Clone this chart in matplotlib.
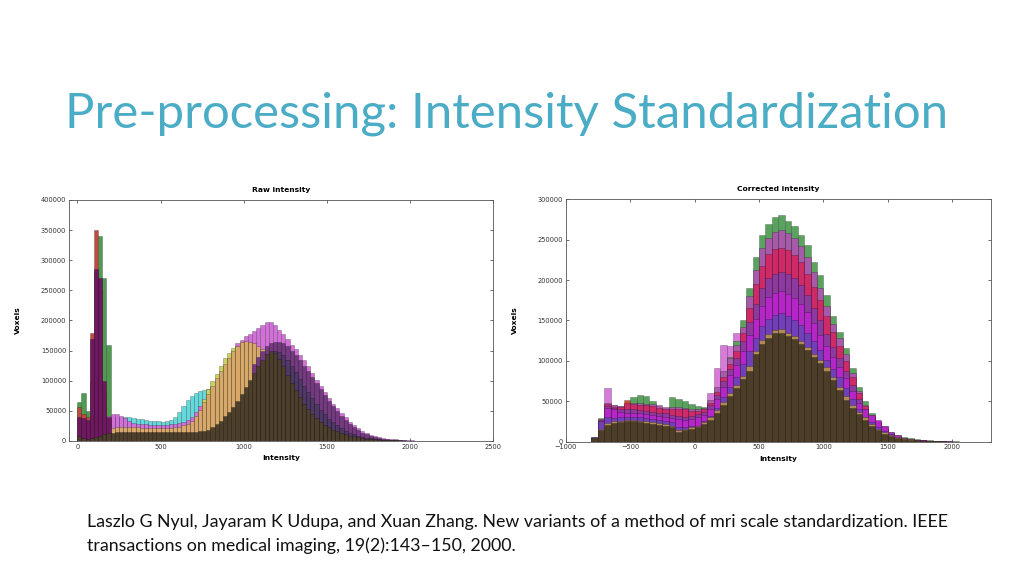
import numpy as np
import matplotlib
matplotlib.use("Agg")
import matplotlib.pyplot as plt

# ── Data (voxel counts in thousands, one value per bin) ───────────────────────
# Raw intensity: bins of 25, each series listed from its first bin edge
RAW_BIN = 25
raw_green_start = 0
raw_green = [65, 80, 50, 100, 280, 340, 270, 160, 40]
raw_red_start = 0
raw_red = [57, 45, 40, 180, 350, 250, 80, 30]
raw_cyan_start = 175
raw_cyan = [30, 36, 38, 39, 39, 39, 38, 37, 36, 35,
            34, 33, 33, 32, 33, 35, 40, 48, 58, 68,
            75, 79, 83, 85, 87, 90, 95, 100]
raw_magenta_start = 150
raw_magenta = [35, 42, 45, 44, 42, 38, 33, 30, 29, 28,
               28, 27, 27, 27, 27, 27, 28, 29, 30, 32,
               35, 40, 48, 58, 68, 78, 88, 100, 112, 125,
               138, 150, 162, 168, 174, 178, 183, 188, 192, 197,
               197, 192, 185, 177, 169, 160, 152, 143, 134, 124,
               113, 102, 92, 82, 72, 62, 54, 46, 39, 32,
               26, 21, 17, 13, 10, 8, 6, 5, 4, 3,
               2.5, 2, 1.5, 1.2, 1, 0.8, 0.6, 0.5, 0.4, 0.3,
               0.3, 0.2, 0.2, 0.1]
raw_yellow_start = 750
raw_yellow = [70, 86, 100, 112, 125, 137, 146, 154, 158, 160, 158, 150, 140]
raw_tan_start = 50
raw_tan = [4, 8, 12, 16, 19, 21, 22, 23, 23, 23,
           23, 23, 23, 22, 22, 22, 22, 22, 22, 22,
           22, 23, 24, 26, 29, 34, 42, 52, 64, 78,
           92, 104, 116, 128, 138, 150, 158, 164, 166, 165,
           162, 158, 152, 145, 135, 122, 108]
raw_purple_start = 1050
raw_purple = [128, 140, 150, 158, 163, 165, 165, 162, 157, 150,
              142, 134, 125, 116, 106, 96, 86, 76, 67, 58,
              50, 42, 35, 29, 23, 18, 14, 11, 8, 6,
              4.5, 3.5, 2.5, 2, 1.5, 1.2, 1, 0.8, 0.6, 0.5]
raw_indigo_start = 1175
raw_indigo = [150, 148, 142, 134, 124, 114, 103, 92, 81, 71,
              61, 52, 44, 37, 31, 26, 21, 17, 14, 11,
              9, 7, 5.5, 4.5, 3.5, 2.8, 2.2, 1.8, 1.4, 1.1,
              0.9, 0.7, 0.5, 0.4]
raw_spike_start = 0
raw_spike = [40, 38, 35, 170, 285, 270, 100, 40]
raw_brown_start = 0
raw_brown = [8, 5, 3, 5, 7, 9, 11, 13, 14, 15,
             15, 15, 15, 15, 15, 15, 15, 15, 15, 15,
             15, 15, 15, 15, 15, 15, 15, 15, 15, 16,
             17, 19, 23, 28, 34, 41, 48, 57, 67, 78,
             89, 101, 113, 124, 135, 145, 150, 146, 136, 124,
             110, 96, 84, 73, 62, 53, 45, 38, 32, 27,
             23, 19, 16, 13, 11, 9, 7.5, 6, 5, 4,
             3.3, 2.7, 2.2, 1.8, 1.4, 1.1, 0.9, 0.7, 0.5, 0.4, 0.3]

# Corrected intensity: bins of 50
COR_BIN = 50
cor_pink_start = -750
cor_pink = [20, 67, 46, 44, 40, 38, 37, 36, 35, 34,
            33, 32, 31, 30, 32, 36, 42, 60, 91, 120,
            118, 134, 140, 150, 160]
cor_red_start = -650
cor_red = [40, 43, 51, 50, 49]
cor_green_start = -800
cor_green = [6, 29, 40, 38, 40, 45, 55, 58, 57, 50,
             42, 40, 55, 53, 50, 47, 44, 43, 48, 62,
             85, 105, 125, 150, 190, 228, 256, 270, 278, 280,
             273, 267, 256, 243, 222, 206, 182, 156, 136, 116,
             91, 68, 50, 35, 26, 19, 12, 8, 6, 4,
             3, 2, 1.5, 1, 0.7, 0.5, 0.3, 0.2]
cor_orchid_start = -800
cor_orchid = [5, 28, 48, 45, 44, 47, 48, 48, 47, 47,
              45, 43, 43, 43, 42, 41, 40, 42, 52, 68,
              88, 104, 120, 142, 180, 212, 240, 252, 260, 262,
              258, 252, 242, 228, 210, 190, 168, 146, 128, 108,
              85, 63, 46, 33, 24, 17, 11, 7, 5, 3.5,
              2.5, 1.8, 1.2, 0.8, 0.5, 0.3, 0.2]
cor_crimson_start = -800
cor_crimson = [5, 27, 47, 43, 43, 48, 47, 46, 45, 44,
               42, 40, 40, 41, 40, 38, 38, 40, 48, 62,
               80, 96, 112, 135, 165, 195, 218, 232, 238, 240,
               237, 231, 222, 208, 192, 175, 156, 136, 118, 100,
               80, 60, 44, 32, 23, 16, 10, 6.5, 4.5, 3.2,
               2.3, 1.6, 1.1, 0.7, 0.4, 0.2]
cor_plum_start = -800
cor_plum = [5, 26, 44, 42, 40, 40, 40, 39, 38, 37,
            36, 35, 33, 32, 31, 32, 34, 37, 45, 58,
            75, 90, 104, 124, 148, 170, 190, 202, 208, 210,
            207, 202, 194, 182, 166, 150, 133, 117, 104, 88,
            70, 53, 40, 30, 22, 15, 10, 6, 4.2, 3,
            2.1, 1.5, 1, 0.6, 0.4, 0.2]
cor_magenta_start = -800
cor_magenta = [5, 22, 42, 40, 37, 36, 36, 35, 34, 33,
               32, 31, 29, 28, 27, 28, 30, 33, 41, 53,
               68, 82, 95, 112, 132, 152, 168, 179, 184, 186,
               183, 178, 170, 160, 147, 132, 118, 105, 93, 79,
               63, 48, 40, 33, 27, 19, 12, 8, 5, 3.5,
               2.5, 1.7, 1.2, 0.8, 0.5, 0.3, 0.2]
cor_violet_start = -800
cor_violet = [6, 25, 30, 29, 30, 31, 31, 30, 29, 28,
              27, 26, 24, 18, 18, 19, 20, 25, 32, 42,
              55, 68, 80, 96, 112, 128, 143, 152, 157, 159,
              156, 151, 144, 135, 124, 113, 101, 90, 80, 67,
              53, 40, 31, 24, 18, 13, 9, 6, 4.2, 3,
              2.1, 1.4, 0.9, 0.6, 0.4, 0.2, 0.1]
cor_tan_start = -800
cor_tan = [5, 16, 23, 25, 26, 27, 27, 26, 25, 24,
           23, 22, 20, 14, 16, 18, 20, 24, 30, 39,
           49, 60, 70, 81, 94, 112, 126, 133, 138, 139,
           135, 131, 125, 117, 109, 101, 92, 80, 68, 56,
           45, 37, 30, 22, 16, 12, 8, 6, 4, 3,
           2, 1.4, 0.9, 0.6, 0.4, 0.2, 0.1]
cor_brown_start = -800
cor_brown = [4, 14, 21, 23, 24, 25, 25, 24, 23, 22,
             21, 20, 18, 12, 14, 16, 18, 22, 27, 36,
             46, 57, 66, 77, 88, 108, 121, 128, 134, 135,
             131, 127, 121, 113, 105, 97, 88, 76, 64, 52,
             42, 34, 27, 20, 14, 10, 7, 5, 3.5, 2.5,
             1.8, 1.2, 0.8, 0.5, 0.3, 0.2, 0.1]

RAW_XTICKS = [0, 500, 1000, 1500, 2000, 2500]
RAW_YTICKS = [0, 50000, 100000, 150000, 200000, 250000, 300000, 350000, 400000]
COR_XTICKS = [-1000, -500, 0, 500, 1000, 1500, 2000]
COR_YTICKS = [0, 50000, 100000, 150000, 200000, 250000, 300000]

TITLE = "Pre-processing: Intensity Standardization"
CITE = ["Laszlo G Nyul, Jayaram K Udupa, and Xuan Zhang. New variants of a method of mri scale standardization. IEEE",
        "transactions on medical imaging, 19(2):143\u2013150, 2000."]

# ── Figure ────────────────────────────────────────────────────────────────────
fig = plt.figure(figsize=(10.24, 5.76), dpi=100, facecolor="white")
EDGE = (0, 0, 0, 0.35)


def draw(ax, start, values, width, color):
    vals = np.asarray(values, dtype=float) * 1000
    edges = start + width * np.arange(len(vals))
    ax.bar(edges, vals, width=width, align="edge", color=color,
           edgecolor=EDGE, linewidth=0.45)


def style(ax, title, xticks, yticks, xlim, ylim):
    ax.set_xlim(*xlim)
    ax.set_ylim(*ylim)
    ax.set_xticks(xticks)
    ax.set_yticks(yticks)
    ax.set_xticklabels([str(t).replace("-", "\u2212") for t in xticks])
    ax.set_yticklabels([str(t) for t in yticks])
    ax.tick_params(direction="in", top=True, right=True, length=2.5,
                   width=0.5, labelsize=4.8, colors="#333333", pad=2)
    for s in ax.spines.values():
        s.set_linewidth(0.6)
        s.set_color("#555555")
    ax.set_title(title, fontsize=5.4, fontweight="bold", pad=6)
    ax.set_xlabel("Intensity", fontsize=5.4, fontweight="bold", labelpad=4)
    ax.set_ylabel("Voxels", fontsize=5.4, fontweight="bold", labelpad=14)


# Raw intensity
ax1 = fig.add_axes([0.0674, 0.2344, 0.4144, 0.4184])
for start, vals, col in [
        (raw_green_start, raw_green, "#4f9b52"),
        (raw_red_start, raw_red, "#bf4a42"),
        (raw_cyan_start, raw_cyan, "#64d9dc"),
        (raw_magenta_start, raw_magenta, "#d36fd9"),
        (raw_yellow_start, raw_yellow, "#c8d25c"),
        (raw_tan_start, raw_tan, "#d8a86a"),
        (raw_purple_start, raw_purple, "#743a80"),
        (raw_indigo_start, raw_indigo, "#4d3866"),
        (raw_spike_start, raw_spike, "#6d1860"),
        (raw_brown_start, raw_brown, "#4c3f2b")]:
    draw(ax1, start, vals, RAW_BIN, col)
style(ax1, "Raw intensity", RAW_XTICKS, RAW_YTICKS, (-50, 2500), (0, 400000))

# Corrected intensity
ax2 = fig.add_axes([0.5524, 0.2332, 0.4153, 0.4208])
for start, vals, col in [
        (cor_pink_start, cor_pink, "#d77ad9"),
        (cor_red_start, cor_red, "#d0503c"),
        (cor_green_start, cor_green, "#5aa35e"),
        (cor_orchid_start, cor_orchid, "#a65aa9"),
        (cor_crimson_start, cor_crimson, "#cf2a68"),
        (cor_plum_start, cor_plum, "#8c3aa0"),
        (cor_magenta_start, cor_magenta, "#b526c6"),
        (cor_violet_start, cor_violet, "#7140b8"),
        (cor_tan_start, cor_tan, "#b08a55"),
        (cor_brown_start, cor_brown, "#4b3d28")]:
    draw(ax2, start, vals, COR_BIN, col)
style(ax2, "Corrected intensity", COR_XTICKS, COR_YTICKS, (-1000, 2300), (0, 300000))

# ── Slide text, scaled to the widths seen on the slide ────────────────────────
W, H = 1024, 576
t = fig.text(65 / W, 1 - 127 / H, TITLE, fontsize=40, color="#4bacc6",
             family="Lato", ha="left", va="baseline")
c1 = fig.text(87 / W, 1 - 527 / H, CITE[0], fontsize=13, color="#111111",
              family="Lato", ha="left", va="baseline")
c2 = fig.text(87 / W, 1 - 551 / H, CITE[1], fontsize=13, color="#111111",
              family="Lato", ha="left", va="baseline")

r = fig.canvas.get_renderer()
tw = t.get_window_extent(r).width
t.set_fontsize(40 * 883 / tw)
cw = c1.get_window_extent(r).width
c1.set_fontsize(13 * 855 / cw)
c2.set_fontsize(13 * 855 / cw)

fig.savefig("out.png", dpi=100, facecolor="white")
